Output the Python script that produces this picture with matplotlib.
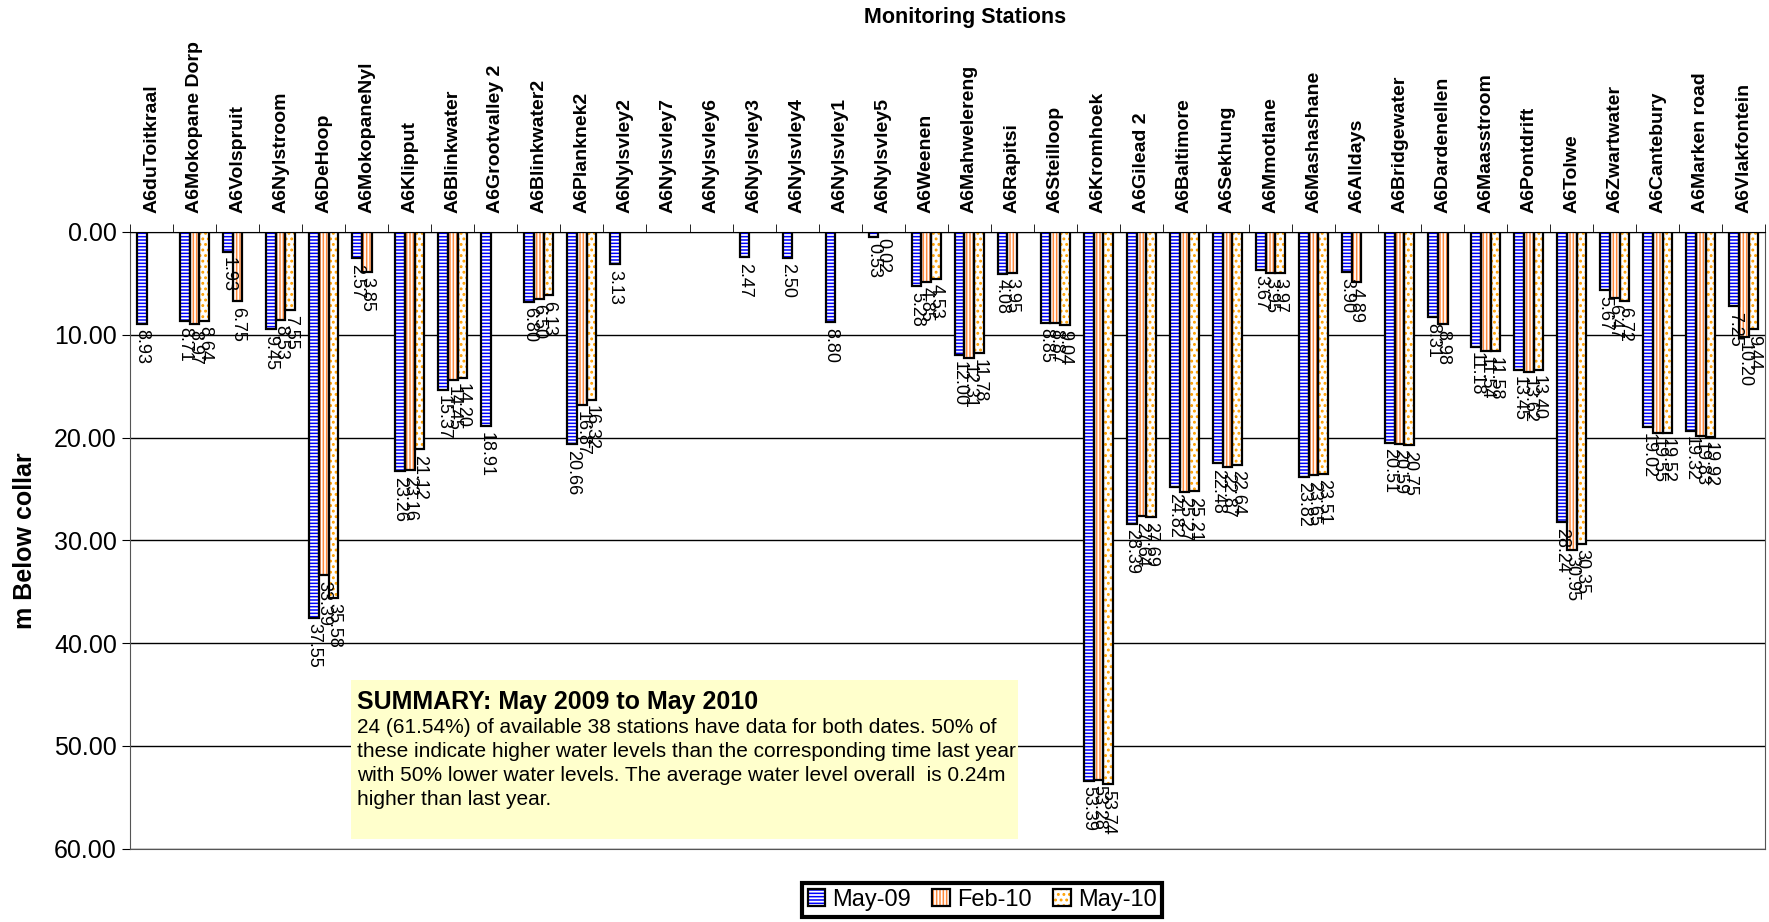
import numpy as np
import matplotlib.pyplot as plt

plt.rcParams['font.family'] = ['Liberation Sans', 'DejaVu Sans']
plt.rcParams['hatch.linewidth'] = 1.3

nan = np.nan
stations = ["A6duToitkraal", "A6Mokopane Dorp", "A6Volspruit", "A6Nylstroom", "A6DeHoop",
            "A6MokopaneNyl", "A6Klipput", "A6Blinkwater", "A6Grootvalley 2", "A6Blinkwater2",
            "A6Planknek2", "A6Nylsvley2", "A6Nylsvley7", "A6Nylsvley6", "A6Nylsvley3",
            "A6Nylsvley4", "A6Nylsvley1", "A6Nylsvley5", "A6Weenen", "A6Mahwelereng",
            "A6Rapitsi", "A6Steilloop", "A6Kromhoek", "A6Gilead 2", "A6Baltimore",
            "A6Sekhung", "A6Mmotlane", "A6Mashashane", "A6Alldays", "A6Bridgewater",
            "A6Dardenellen", "A6Maasstroom", "A6Pontdrift", "A6Tolwe", "A6Zwartwater",
            "A6Cantebury", "A6Marken road", "A6Vlakfontein"]
may09 = [8.93, 8.71, 1.93, 9.45, 37.55, 2.57, 23.26, 15.37, 18.91, 6.80,
         20.66, 3.13, nan, nan, 2.47, 2.50, 8.80, 0.53, 5.28, 12.00,
         4.08, 8.85, 53.39, 28.39, 24.82, 22.48, 3.67, 23.82, 3.90, 20.51,
         8.31, 11.18, 13.45, 28.24, 5.67, 19.02, 19.32, 7.25]
feb10 = [nan, 8.97, 6.75, 8.53, 33.39, 3.85, 23.16, 14.45, nan, 6.50,
         16.87, nan, nan, nan, nan, nan, nan, 0.02, 4.85, 12.31,
         3.95, 8.87, 53.28, 27.64, 25.27, 22.87, 3.95, 23.65, 4.89, 20.59,
         8.98, 11.54, 13.62, 30.95, 6.47, 19.55, 19.83, 10.20]
may10 = [nan, 8.64, nan, 7.55, 35.58, nan, 21.12, 14.20, nan, 6.13,
         16.32, nan, nan, nan, nan, nan, nan, nan, 4.53, 11.78,
         nan, 9.04, 53.74, 27.69, 25.21, 22.64, 3.97, 23.51, nan, 20.75,
         nan, 11.58, 13.40, 30.35, 6.72, 19.52, 19.92, 9.44]
series = ["May-09", "Feb-10", "May-10"]

# face colour, hatch colour, hatch
styles = [("blue", "white", "-----"),
          ("#FF8A3D", "white", "|||||"),
          ("white", "#FFA000", "...")]

fig = plt.figure(figsize=(17.69, 9.22), dpi=100)
ax = fig.add_axes([0.0735, 0.0796, 0.9245, 0.6688])

x = np.arange(len(stations))
w = 0.225
handles = []
for i, vals in enumerate([may09, feb10, may10]):
    fc, hc, hatch = styles[i]
    pos = x + (i - 1) * w
    v = np.array(vals)
    ok = ~np.isnan(v)
    b1 = ax.bar(pos[ok], v[ok], w, color=fc, edgecolor=hc, hatch=hatch, linewidth=0, zorder=2)
    b2 = ax.bar(pos[ok], v[ok], w, fill=False, edgecolor="black", linewidth=1.6, zorder=3)
    handles.append((b1[0], b2[0]))
    for px, val in zip(pos[ok], v[ok]):
        ax.annotate("%.2f" % val, (px, val), xytext=(0, -4), textcoords="offset points",
                    rotation=-90, ha="center", va="top", fontsize=13, zorder=4)

ax.set_ylim(60, 0)
ax.set_xlim(-0.5, len(stations) - 0.5)
ax.set_yticks(np.arange(0, 61, 10))
ax.set_yticklabels(["%.2f" % t for t in np.arange(0, 61, 10)], fontsize=18)
ax.yaxis.grid(True, color="black", linewidth=1)
ax.set_axisbelow(True)
ax.tick_params(axis="y", length=6)

ax.xaxis.tick_top()
ax.set_xticks(x)
ax.set_xticklabels(stations, rotation=90, fontsize=14, fontweight="bold")
ax.tick_params(axis="x", which="major", length=0, pad=14)
ax.set_xticks(np.arange(-0.5, len(stations), 1), minor=True)
ax.tick_params(axis="x", which="minor", length=6, top=True, bottom=False)
for s in ax.spines.values():
    s.set_color("#555555")
ax.spines["top"].set_color("black")

ax.set_ylabel("m Below collar", fontsize=18, fontweight="bold", labelpad=12)
fig.text(0.5455, 0.981, "Monitoring Stations", ha="center", va="center",
         fontsize=15.5, fontweight="bold")

# summary box
fig.patches.append(plt.Rectangle((351 / 1769, 1 - 839 / 922), 667 / 1769, 159 / 922,
                                 transform=fig.transFigure, facecolor="#FFFFCC",
                                 edgecolor="none", zorder=5))
fig.text(357 / 1769, 1 - 702 / 922, "SUMMARY: May 2009 to May 2010", fontsize=18,
         fontweight="bold", va="center", zorder=6)
fig.text(357 / 1769, 1 - 718 / 922,
         "24 (61.54%) of available 38 stations have data for both dates. 50% of\n"
         "these indicate higher water levels than the corresponding time last year\n"
         "with 50% lower water levels. The average water level overall  is 0.24m\n"
         "higher than last year.", fontsize=15, va="top", linespacing=1.33, zorder=6)

leg = fig.legend(handles, series, loc="center", bbox_to_anchor=(982 / 1769, 1 - 900 / 922),
                 ncol=3, fontsize=17, fancybox=False, framealpha=1, edgecolor="black",
                 handlelength=0.75, handleheight=0.75, handletextpad=0.3, columnspacing=0.9,
                 borderpad=0.25)
leg.get_frame().set_linewidth(3)

fig.savefig("out.png", dpi=100)
